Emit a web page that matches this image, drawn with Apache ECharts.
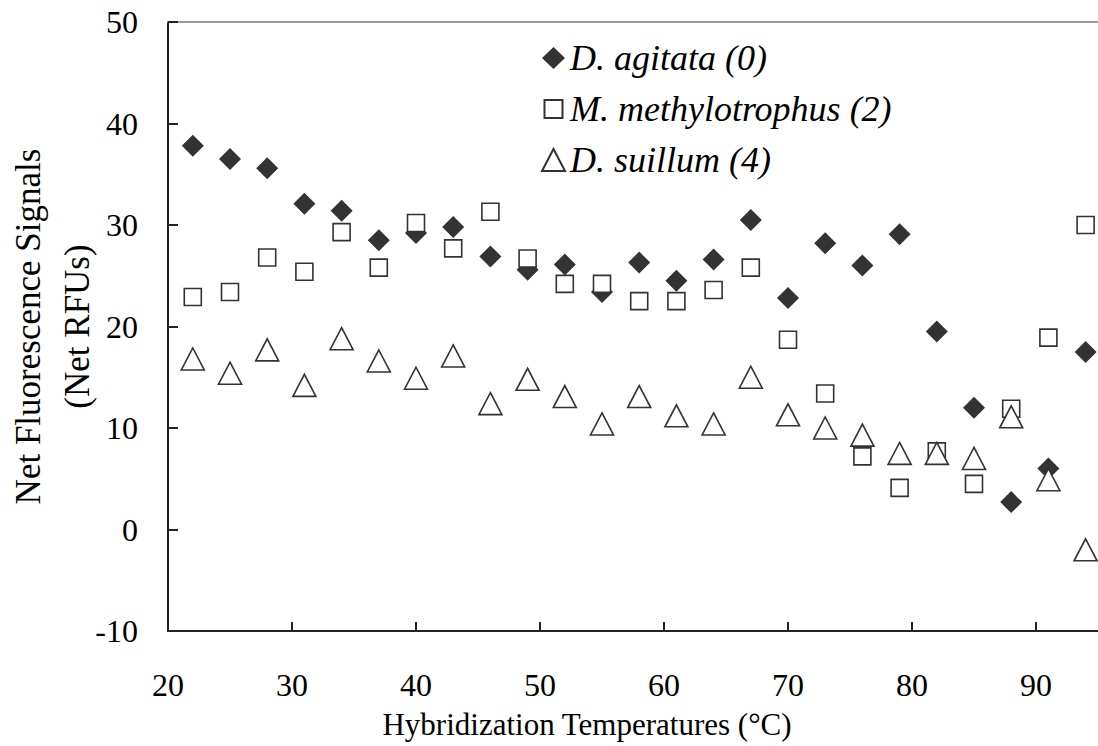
<!DOCTYPE html>
<html>
<head>
<meta charset="utf-8">
<script src="https://cdn.jsdelivr.net/npm/echarts@6/dist/echarts.min.js"></script>
<style>html,body{margin:0;padding:0;background:#fff;}#c{width:1098px;height:746px;}</style>
</head>
<body>
<div id="c"></div>
<script>
const temps = [22,25,28,31,34,37,40,43,46,49,52,55,58,61,64,67,70,73,76,79,82,85,88,91,94];
const agitata = [37.8,36.5,35.6,32.1,31.4,28.5,29.2,29.8,26.9,25.6,26.1,23.4,26.3,24.5,26.6,30.5,22.8,28.2,26.0,29.1,19.5,12.0,2.7,6.0,17.5];
const methylotrophus = [22.9,23.4,26.8,25.4,29.3,25.8,30.2,27.7,31.3,26.7,24.2,24.2,22.5,22.5,23.6,25.8,18.7,13.4,7.2,4.1,7.7,4.5,11.9,18.9,30.0];
const suillum = [16.8,15.4,17.7,14.2,18.8,16.6,14.9,17.1,12.4,14.8,13.1,10.4,13.1,11.2,10.4,15.0,11.3,10.0,9.3,7.5,7.5,7.0,11.1,4.9,-2.0];
const seriesNames = ['D. agitata (0)', 'M. methylotrophus (2)', 'D. suillum (4)'];
const xTitle = 'Hybridization Temperatures (°C)';
const yTitle = 'Net Fluorescence Signals\n(Net RFUs)';

const pairs = arr => temps.map((t, i) => [t, arr[i]]);
const font = "'Liberation Serif', 'DejaVu Serif', serif";
const ink = '#333';
// square legend icon with transparent extent so the square is drawn smaller than the icon box
const squareIcon = 'path://M0,0L0,0M2.5,2L20.5,2L20.5,20L2.5,20ZM23,22L23,22';

const chart = echarts.init(document.getElementById('c'), null, {renderer: 'svg'});
chart.setOption({
  animation: false,
  backgroundColor: '#fff',
  textStyle: {fontFamily: font, color: '#000'},
  grid: {left: 168, right: 0, top: 22, bottom: 115, containLabel: false, outerBoundsMode: 'none'},
  legend: {
    orient: 'vertical', left: 541, top: 40, padding: 0, itemGap: 15, itemWidth: 23, itemHeight: 22, itemTextGap: 9,
    textStyle: {fontFamily: font, fontSize: 36, fontStyle: 'italic', color: '#000'},
    data: [
      {name: seriesNames[0], icon: 'diamond'},
      {name: seriesNames[1], icon: squareIcon},
      {name: seriesNames[2], icon: 'triangle'}
    ]
  },
  xAxis: [{
    type: 'value', min: 20, max: 95, interval: 10, position: 'bottom',
    axisLine: {show: true, onZero: false, lineStyle: {color: '#222', width: 2}},
    axisTick: {show: true, inside: true, length: 9, lineStyle: {color: '#222', width: 2}},
    axisLabel: {fontFamily: font, fontSize: 32, color: '#000', margin: 38, showMaxLabel: false},
    splitLine: {show: false},
    name: xTitle, nameLocation: 'middle', nameGap: 78, nameMoveOverlap: false,
    nameTextStyle: {fontFamily: font, fontSize: 31, color: '#000', padding: [0, 92, 0, 0]}
  }, {
    type: 'value', min: 20, max: 95, position: 'top',
    axisLine: {show: true, onZero: false, lineStyle: {color: '#999', width: 2}},
    axisTick: {show: false}, axisLabel: {show: false}, splitLine: {show: false}
  }],
  yAxis: {
    type: 'value', min: -10, max: 50, interval: 10,
    axisLine: {show: true, onZero: false, lineStyle: {color: '#222', width: 2}},
    axisTick: {show: true, inside: true, length: 10, lineStyle: {color: '#222', width: 2}},
    axisLabel: {fontFamily: font, fontSize: 32, color: '#000', margin: 30},
    splitLine: {show: false},
    name: yTitle, nameLocation: 'middle', nameGap: 66, nameRotate: 90, nameMoveOverlap: false,
    nameTextStyle: {fontFamily: font, fontSize: 35, color: '#000', lineHeight: 49, align: 'center'}
  },
  series: [{
    name: seriesNames[0], type: 'scatter', data: pairs(agitata),
    symbol: 'diamond', symbolSize: 22,
    itemStyle: {color: ink, opacity: 1}
  }, {
    name: seriesNames[1], type: 'scatter', data: pairs(methylotrophus),
    symbol: 'rect', symbolSize: 17,
    itemStyle: {color: '#fff', borderColor: ink, borderWidth: 1.6, opacity: 1}
  }, {
    name: seriesNames[2], type: 'scatter', data: pairs(suillum),
    symbol: 'triangle', symbolSize: [23, 22],
    itemStyle: {color: '#fff', borderColor: ink, borderWidth: 1.6, opacity: 1}
  }]
});
</script>
</body>
</html>
